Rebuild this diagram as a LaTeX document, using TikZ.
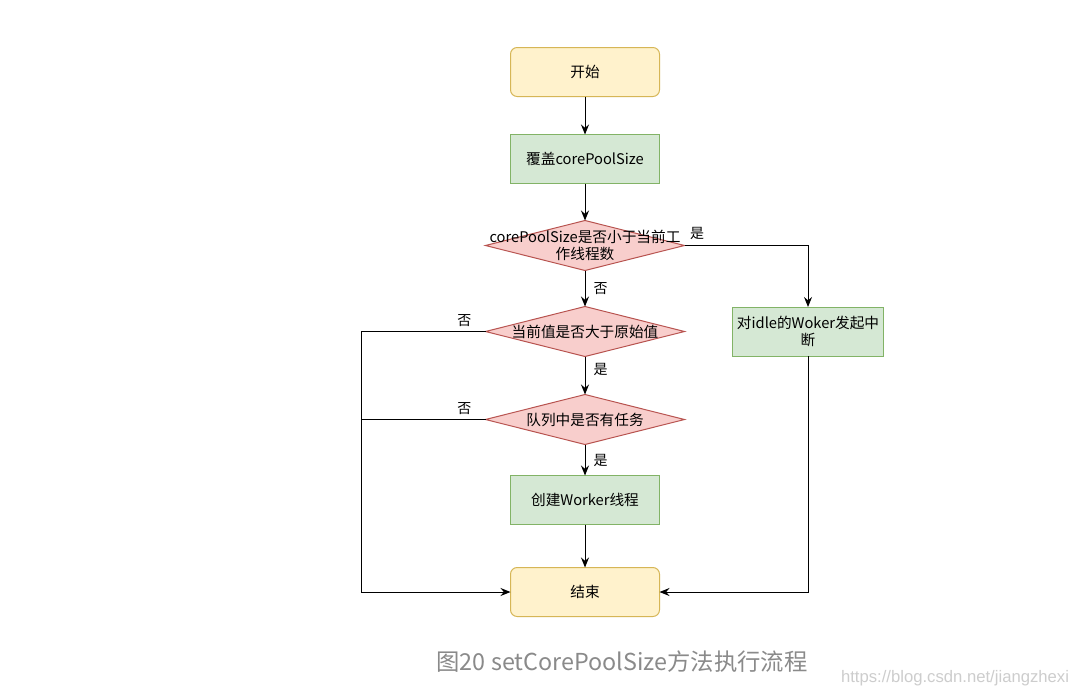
\documentclass[tikz,border=0pt]{standalone}
\usepackage{fontspec}
\setmainfont{Noto Sans CJK SC}
\newfontfamily\urlfont{Liberation Sans}
\usepackage{tikz}
\usetikzlibrary{arrows.meta, positioning, shapes.geometric}
\definecolor{StartFill}{HTML}{FFF2CC}
\definecolor{StartLine}{HTML}{D6B656}
\definecolor{StepFill}{HTML}{D5E8D4}
\definecolor{StepLine}{HTML}{82B366}
\definecolor{AskFill}{HTML}{F8CECC}
\definecolor{AskLine}{HTML}{B85450}
\definecolor{CapGray}{HTML}{8A8A8A}
\definecolor{UrlGray}{HTML}{CDCDCD}

\begin{document}
\begin{tikzpicture}[
    x=0.75pt, y=-0.75pt,
    font=\fontsize{11}{13}\selectfont,
    term/.style={rectangle, rounded corners=5pt, draw=StartLine, fill=StartFill, line width=0.75pt, outer sep=0pt, minimum width=111.75pt, minimum height=36.75pt, align=center},
    stepbox/.style={rectangle, draw=StepLine, fill=StepFill, line width=0.75pt, outer sep=0pt, minimum width=111.75pt, minimum height=36.75pt, align=center},
    ask/.style={diamond, draw=AskLine, fill=AskFill, line width=0.75pt, inner sep=0pt, outer sep=0pt, minimum width=149.25pt, minimum height=37.5pt},
    asktext/.style={align=center, inner sep=0pt},
    lbl/.style={font=\fontsize{10.5}{12}\selectfont, inner sep=2pt},
    arrow/.style={-{Stealth[length=7.5pt, width=6pt, inset=2.5pt]}, line width=0.75pt},
    line/.style={line width=0.75pt}
]
\fill[white] (0,0) rectangle (1080,696);
\useasboundingbox (0,0) rectangle (1080,696);

\node[term] (start) at (585,72) {开始};
\node[stepbox, below=28.5pt of start] (cover) {覆盖corePoolSize};
\node[ask, below=27.75pt of cover] (d1) {};
\node[asktext] (d1t) at (d1) {corePoolSize是否小于当前工\\作线程数};
\node[ask, below=27pt of d1] (d2) {};
\node[asktext] (d2t) at (d2) {当前值是否大于原始值};
\node[ask, below=28.5pt of d2] (d3) {};
\node[asktext] (d3t) at (d3) {队列中是否有任务};
\node[stepbox, below=23.25pt of d3] (create) {创建Worker线程};
\node[term, below=32.25pt of create] (end) {结束};
\node[stepbox, right=36pt of d2] (idle) {对idle的Woker发起中\\断};
\coordinate (lc) at ([xshift=-93pt]d2.west);

\draw[arrow] (start) -- (cover);
\draw[arrow] (cover) -- (d1);
\draw[arrow] (d1) -- node[lbl, right=4pt] (no1) {否} (d2);
\draw[arrow] (d2) -- node[lbl, pos=0.35, right=4pt] (yes2) {是} (d3);
\draw[arrow] (d3) -- node[lbl, right=4pt] (yes3) {是} (create);
\draw[arrow] (create) -- (end);
\draw[arrow] (d1.east) -| (idle.north);
\node[lbl, anchor=south west] (yes1) at ([xshift=2pt, yshift=2pt]d1.east) {是};
\draw[arrow] (idle.south) |- (end.east);
\draw[arrow] (d2.west) -- node[lbl, pos=0.17, above=1pt] (no2) {否} (lc) |- (end.west);
\draw[line] (d3.west) -- node[lbl, pos=0.17, above=1pt] (no3) {否} (d3.west -| lc);

% caption and source
\node[text=CapGray, font=\fontsize{17.5}{19}\selectfont] (caption) at (622,662) {图20 setCorePoolSize方法执行流程};
\node[text=UrlGray, font=\urlfont\fontsize{12.5}{14}\selectfont] (source) at (955,678) {https://blog.csdn.net/jiangzhexi};
\end{tikzpicture}
\end{document}
